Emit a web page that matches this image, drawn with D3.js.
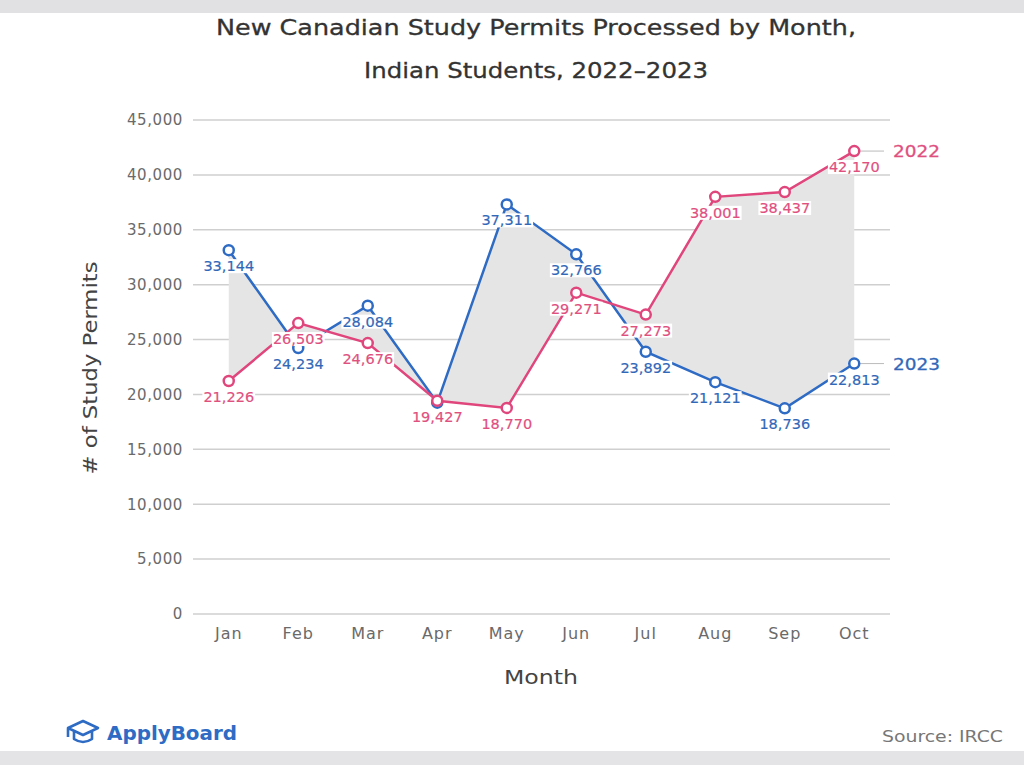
<!DOCTYPE html>
<html>
<head>
<meta charset="utf-8">
<script src="https://cdn.jsdelivr.net/npm/d3@7"></script>
<style>
  html, body { margin: 0; padding: 0; background: #ffffff; }
  svg { display: block; }
  text { font-family: "DejaVu Sans", "Open Sans", sans-serif; }
</style>
</head>
<body>
<svg id="chart" width="1024" height="765"></svg>
<script>
const months = ["Jan", "Feb", "Mar", "Apr", "May", "Jun", "Jul", "Aug", "Sep", "Oct"];
const values2022 = [21226, 26503, 24676, 19427, 18770, 29271, 27273, 38001, 38437, 42170];
const values2023 = [33144, 24234, 28084, 19250, 37311, 32766, 23892, 21121, 18736, 22813];
const show2023Label = [true, true, true, false, true, true, true, true, true, true];
const yTicks = [0, 5000, 10000, 15000, 20000, 25000, 30000, 35000, 40000, 45000];
const seriesNames = ["2022", "2023"];
const titleLines = ["New Canadian Study Permits Processed by Month,", "Indian Students, 2022\u20132023"];

const pink = "#e0467c";
const blue = "#2e6bc4";
const pinkText = "#e0507f";
const blueText = "#3268b8";

const svg = d3.select("#chart");
const W = 1024, H = 765;

// background bands
svg.append("rect").attr("x", 0).attr("y", 0).attr("width", W).attr("height", 13).attr("fill", "#e1e1e3");
svg.append("rect").attr("x", 0).attr("y", 751).attr("width", W).attr("height", 14).attr("fill", "#e4e4e6");

const x = d3.scaleBand().domain(months).range([194, 889]);
const xc = m => x(m) + x.bandwidth() / 2;
const y = d3.scaleLinear().domain([0, 45000]).range([614, 120]);

// title
const titleWidths = [640, 344];
svg.selectAll(".title").data(titleLines).enter().append("text")
  .attr("x", 536).attr("y", (d, i) => 35 + i * 43)
  .attr("text-anchor", "middle").attr("font-size", 21.5)
  .attr("textLength", (d, i) => titleWidths[i]).attr("lengthAdjust", "spacingAndGlyphs")
  .attr("fill", "#333").attr("stroke", "#333").attr("stroke-width", 0.3).text(d => d);

// gridlines
svg.append("g").selectAll("line").data(yTicks).enter().append("line")
  .attr("x1", 193).attr("x2", 890)
  .attr("y1", d => y(d)).attr("y2", d => y(d))
  .attr("stroke", "#cfcfcf").attr("stroke-width", 1.5);

// y axis labels
const yAxis = d3.axisLeft(y).tickValues(yTicks).tickFormat(d3.format(",")).tickSize(0).tickPadding(0);
const gy = svg.append("g").attr("transform", "translate(183,0)").call(yAxis);
gy.select(".domain").remove();
gy.selectAll("text").attr("font-size", 15).attr("fill", "#6a6a6a")
  .attr("font-family", "'DejaVu Sans', sans-serif").attr("letter-spacing", 0.6);

// x axis labels
const xAxis = d3.axisBottom(x).tickSize(0).tickPadding(0);
const gx = svg.append("g").attr("transform", "translate(0,628)").call(xAxis);
gx.select(".domain").remove();
gx.selectAll("text").attr("font-size", 16).attr("fill", "#6a6a6a")
  .attr("font-family", "'DejaVu Sans', sans-serif").attr("letter-spacing", 1);

// axis titles
svg.append("text").attr("x", 541).attr("y", 684).attr("text-anchor", "middle")
  .attr("font-size", 20).attr("fill", "#444")
  .attr("textLength", 74).attr("lengthAdjust", "spacingAndGlyphs").text("Month");
svg.append("text").attr("transform", "translate(97,368) rotate(-90)").attr("text-anchor", "middle")
  .attr("font-size", 19).attr("fill", "#444")
  .attr("textLength", 213).attr("lengthAdjust", "spacingAndGlyphs").text("# of Study Permits");

// area between
const pairs = months.map((m, i) => ({ m, a: values2022[i], b: values2023[i] }));
svg.append("path").datum(pairs)
  .attr("d", d3.area().x(d => xc(d.m)).y0(d => y(d.a)).y1(d => y(d.b)))
  .attr("fill", "#e5e5e5");

const line = d3.line().x(d => xc(d.m)).y(d => y(d.v));
const s2022 = months.map((m, i) => ({ m, v: values2022[i] }));
const s2023 = months.map((m, i) => ({ m, v: values2023[i], show: show2023Label[i] }));

// end connectors
[[s2022, pink, pinkText, seriesNames[0]], [s2023, blue, blueText, seriesNames[1]]].forEach(([s, c, tc, name]) => {
  const last = s[s.length - 1];
  svg.append("line").attr("x1", xc(last.m) + 6).attr("x2", 884)
    .attr("y1", y(last.v)).attr("y2", y(last.v))
    .attr("stroke", "#bbb").attr("stroke-width", 1);
  svg.append("text").attr("x", 893).attr("y", y(last.v) + 6)
    .attr("font-size", 16).attr("fill", tc).attr("stroke", tc).attr("stroke-width", 0.3)
    .attr("textLength", 47).attr("lengthAdjust", "spacingAndGlyphs").text(name);
});

svg.append("path").datum(s2023).attr("d", line).attr("fill", "none").attr("stroke", blue).attr("stroke-width", 2.5);
svg.append("path").datum(s2022).attr("d", line).attr("fill", "none").attr("stroke", pink).attr("stroke-width", 2.5);

function markers(s, c) {
  svg.append("g").selectAll("circle").data(s).enter().append("circle")
    .attr("cx", d => xc(d.m)).attr("cy", d => y(d.v)).attr("r", 5)
    .attr("fill", "#fff").attr("stroke", c).attr("stroke-width", 2.5);
}
markers(s2023, blue);
markers(s2022, pink);

function labels(s, c) {
  const g = svg.append("g");
  s.filter(d => d.show !== false).forEach(d => {
    const gg = g.append("g");
    const t = gg.append("text").attr("x", xc(d.m)).attr("y", y(d.v) + 21)
      .attr("text-anchor", "middle").attr("font-size", 14.5)
      .attr("fill", c).attr("stroke", c).attr("stroke-width", 0.2).text(d3.format(",")(d.v));
    const bb = t.node().getBBox();
    gg.insert("rect", "text").attr("x", bb.x - 1).attr("y", bb.y + 1)
      .attr("width", bb.width + 2).attr("height", bb.height - 2).attr("fill", "#fff");
  });
}
labels(s2023, blueText);
labels(s2022, pinkText);

// footer
const logo = svg.append("g").attr("transform", "translate(66,720)");
logo.append("path").attr("d", "M2,8 L17,1 L32,8 L17,15 Z M8,11 L8,19 Q17,25 26,19 L26,11 M2,8 L2,17")
  .attr("fill", "none").attr("stroke", blue).attr("stroke-width", 2.6).attr("stroke-linejoin", "round");
svg.append("text").attr("x", 107).attr("y", 740).attr("font-size", 20).attr("font-weight", 700)
  .attr("textLength", 130).attr("lengthAdjust", "spacingAndGlyphs")
  .attr("fill", blue).text("ApplyBoard");
svg.append("text").attr("x", 1003).attr("y", 742).attr("text-anchor", "end")
  .attr("font-size", 16).attr("fill", "#777")
  .attr("textLength", 121).attr("lengthAdjust", "spacingAndGlyphs").text("Source: IRCC");
</script>
</body>
</html>
